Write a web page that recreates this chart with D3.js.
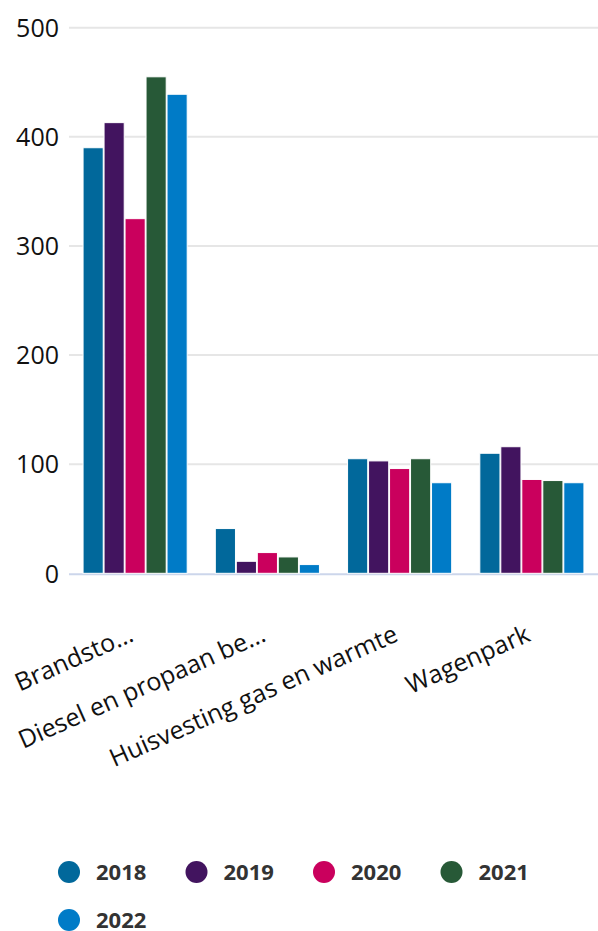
<html>
<head>
  <style type="text/css">
    body { margin: 0; background: #fff; }
    text { font-family: "Open Sans", "Noto Sans", sans-serif; }
  </style>
</head>
<body>
  <svg width="598" height="931"></svg>
  <script src="https://cdnjs.cloudflare.com/ajax/libs/d3/7.8.5/d3.min.js"></script>
  <script>
  // data
  const categories = ["Brandsto…", "Diesel en propaan be…", "Huisvesting gas en warmte", "Wagenpark"];
  const years = ["2018", "2019", "2020", "2021", "2022"];
  const values2018 = [390, 41, 105, 110];
  const values2019 = [413, 11, 103, 116];
  const values2020 = [325, 19, 96, 86];
  const values2021 = [455, 15, 105, 85];
  const values2022 = [439, 8, 83, 83];
  const yTicks = [0, 100, 200, 300, 400, 500];
  const colors = ["#01689b", "#42145f", "#ca005d", "#275937", "#007bc7"];

  const series = [values2018, values2019, values2020, values2021, values2022];

  const svg = d3.select("svg");

  const x0 = d3.scaleBand()
    .domain(categories)
    .range([69, 598])
    .paddingInner(0.2)
    .paddingOuter(0.1);

  const x1 = d3.scaleBand()
    .domain(years)
    .range([0, x0.bandwidth()])
    .padding(0.04);

  const y = d3.scaleLinear()
    .domain([0, 500])
    .range([573.3, 27.7]);

  const color = d3.scaleOrdinal().domain(years).range(colors);

  // gridlines
  svg.append("g")
    .selectAll("line")
    .data(yTicks.slice(1))
    .join("line")
      .attr("x1", 69)
      .attr("x2", 598)
      .attr("y1", d => y(d))
      .attr("y2", d => y(d))
      .attr("stroke", "#e6e6e6")
      .attr("stroke-width", 2);

  // baseline
  svg.append("line")
    .attr("x1", 69)
    .attr("x2", 598)
    .attr("y1", y(0) + 1)
    .attr("y2", y(0) + 1)
    .attr("stroke", "#ccd6eb")
    .attr("stroke-width", 2);

  // y axis
  const yAxis = svg.append("g")
    .attr("transform", "translate(59,0)")
    .call(d3.axisLeft(y).tickValues(yTicks).tickSize(0).tickPadding(0));
  yAxis.select(".domain").remove();
  yAxis.selectAll("text")
    .attr("font-size", 25)
    .attr("fill", "#111")
    .attr("dy", "0.35em");

  // bars
  const groups = svg.append("g")
    .selectAll("g")
    .data(categories)
    .join("g")
      .attr("transform", d => "translate(" + x0(d) + ",0)");

  groups.selectAll("rect")
    .data((d, i) => years.map((yr, j) => ({ year: yr, value: series[j][i] })))
    .join("rect")
      .attr("x", d => x1(d.year))
      .attr("y", d => y(d.value))
      .attr("width", x1.bandwidth())
      .attr("height", d => y(0) - y(d.value))
      .attr("fill", d => color(d.year))
      .attr("stroke", "#fff")
      .attr("stroke-width", 1);

  // x axis labels
  const xAxis = svg.append("g")
    .attr("transform", "translate(0," + (y(0) + 67) + ")")
    .call(d3.axisBottom(x0).tickSize(0).tickPadding(0));
  xAxis.select(".domain").remove();
  xAxis.selectAll("text")
    .attr("font-size", 25)
    .attr("fill", "#111")
    .attr("text-anchor", "end")
    .attr("dy", 0)
    .attr("transform", "rotate(-24)");

  // legend
  const legend = svg.append("g")
    .selectAll("g")
    .data(years)
    .join("g")
      .attr("transform", (d, i) => "translate(" + (69 + (i % 4) * 127.5) + "," + (872 + Math.floor(i / 4) * 48) + ")");

  legend.append("circle")
    .attr("r", 11)
    .attr("fill", d => color(d));

  legend.append("text")
    .attr("x", 27)
    .attr("dy", "0.35em")
    .attr("font-size", 22)
    .attr("font-weight", "bold")
    .attr("fill", "#333")
    .text(d => d);
  </script>
</body>
</html>
